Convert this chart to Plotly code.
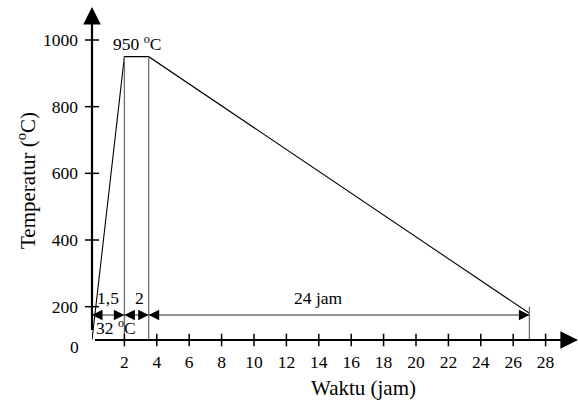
import plotly.graph_objects as go

# ---- data ----
time_h = [0, 2, 3.5, 27]          # heating start, reach 950, end soak, end cooling
temp_c = [100, 950, 950, 180]     # axis floor (labelled 0 / 32 °C start), 950, 950, end of cooling
guide_x = [2, 3.5, 27]            # vertical guide lines
guide_top = [950, 950, 200]
dim_start = [0, 2, 3.5]
dim_end = [2, 3.5, 27]
dim_labels = ["1,5", "2", "24 jam"]
dim_level = 175
x_ticks = [2, 4, 6, 8, 10, 12, 14, 16, 18, 20, 22, 24, 26, 28]
y_ticks = [200, 400, 600, 800, 1000]
y_floor = 100
x_max = 30
y_max = 1099

FONT = "Liberation Serif, Times New Roman, serif"
BLACK = "#000000"
GRAY = "#6e6e6e"
TICK_SIZE = 17.5
LABEL_SIZE = 17.5
TITLE_SIZE = 21

W, H = 578, 401
ML, MR, MT, MB = 92, 0, 7, 61
pw, ph = W - ML - MR, H - MT - MB

fig = go.Figure()

# temperature profile
fig.add_trace(go.Scatter(x=time_h, y=temp_c, mode="lines",
                         line=dict(color=BLACK, width=1.1), hoverinfo="skip"))

# vertical guide lines
for gx, gt in zip(guide_x, guide_top):
    fig.add_trace(go.Scatter(x=[gx, gx], y=[y_floor, gt], mode="lines",
                             line=dict(color=GRAY, width=1.3), hoverinfo="skip"))

# dimension line
fig.add_trace(go.Scatter(x=[dim_start[0], dim_end[-1]], y=[dim_level, dim_level], mode="lines",
                         line=dict(color=GRAY, width=1.3), hoverinfo="skip"))

# crossing tick marks
fig.add_trace(go.Scatter(x=x_ticks, y=[y_floor] * len(x_ticks), mode="markers",
                         marker=dict(symbol="line-ns", size=9, line=dict(color=BLACK, width=1.5)),
                         hoverinfo="skip", cliponaxis=False))
fig.add_trace(go.Scatter(x=[0] * len(y_ticks), y=y_ticks, mode="markers",
                         marker=dict(symbol="line-ew", size=10, line=dict(color=BLACK, width=1.5)),
                         hoverinfo="skip", cliponaxis=False))

annotations = []
# axes with arrow heads
annotations.append(dict(x=x_max, y=y_floor, ax=0, ay=y_floor, xref="x", yref="y", axref="x", ayref="y",
                        showarrow=True, arrowhead=2, arrowsize=1.6, arrowwidth=2.2, arrowcolor=BLACK,
                        standoff=0, text=" "))
annotations.append(dict(x=0, y=y_max, ax=0, ay=y_floor, xref="x", yref="y", axref="x", ayref="y",
                        showarrow=True, arrowhead=2, arrowsize=1.6, arrowwidth=2.2, arrowcolor=BLACK,
                        standoff=0, text=" "))

# dimension arrow heads (pointing inward to each segment end)
for s, e in zip(dim_start, dim_end):
    annotations.append(dict(x=s, y=dim_level, ax=10, ay=0, xref="x", yref="y",
                            showarrow=True, arrowhead=2, arrowsize=1.5, arrowwidth=1.4,
                            arrowcolor=BLACK, standoff=0, text=" "))
    annotations.append(dict(x=e, y=dim_level, ax=-10, ay=0, xref="x", yref="y",
                            showarrow=True, arrowhead=2, arrowsize=1.5, arrowwidth=1.4,
                            arrowcolor=BLACK, standoff=0, text=" "))

# dimension labels
label_x = [1.0, 2.96, 14.0]
for lx, lt in zip(label_x, dim_labels):
    annotations.append(dict(x=lx, y=226, xref="x", yref="y", text=lt, showarrow=False,
                            xanchor="center", yanchor="middle",
                            font=dict(family=FONT, size=LABEL_SIZE, color=BLACK)))

annotations.append(dict(x=1.48, y=139, xref="x", yref="y", text="32 <sup>o</sup>C", showarrow=False,
                        xanchor="center", yanchor="middle",
                        font=dict(family=FONT, size=LABEL_SIZE, color=BLACK)))
annotations.append(dict(x=2.78, y=992, xref="x", yref="y", text="950 <sup>o</sup>C", showarrow=False,
                        xanchor="center", yanchor="middle",
                        font=dict(family=FONT, size=LABEL_SIZE, color=BLACK)))

# "0" at origin
annotations.append(dict(x=0, y=y_floor, xref="x", yref="y", text="0", showarrow=False,
                        xanchor="right", yanchor="middle", xshift=-11, yshift=-7,
                        font=dict(family=FONT, size=TICK_SIZE, color=BLACK)))

# axis titles (positioned in paper coordinates)
annotations.append(dict(x=(363 - ML) / pw, y=(H - MB - 388) / ph, xref="paper", yref="paper",
                        xanchor="center", yanchor="middle",
                        text="Waktu (jam)", showarrow=False,
                        font=dict(family=FONT, size=TITLE_SIZE, color=BLACK)))
annotations.append(dict(x=(26 - ML) / pw, y=(H - MB - 181) / ph, xref="paper", yref="paper",
                        xanchor="center", yanchor="middle",
                        text="Temperatur (<sup>o</sup>C)", showarrow=False, textangle=-90,
                        font=dict(family=FONT, size=TITLE_SIZE, color=BLACK)))

fig.update_layout(
    width=W, height=H,
    margin=dict(l=ML, r=MR, t=MT, b=MB, autoexpand=False),
    plot_bgcolor="white", paper_bgcolor="white",
    showlegend=False,
    annotations=annotations,
    xaxis=dict(range=[0, x_max], tickvals=x_ticks, ticktext=[str(v) for v in x_ticks],
               showgrid=False, zeroline=False, showline=False, ticks="",
               ticklabelstandoff=9, automargin=False,
               tickfont=dict(family=FONT, size=TICK_SIZE, color=BLACK)),
    yaxis=dict(range=[y_floor, y_max], tickvals=y_ticks, ticktext=[str(v) for v in y_ticks],
               showgrid=False, zeroline=False, showline=False, ticks="",
               ticklabelstandoff=13, automargin=False,
               tickfont=dict(family=FONT, size=TICK_SIZE, color=BLACK)),
)

fig.write_html("out.html", config={"displayModeBar": False},
               post_script="document.body.style.margin='0';document.body.style.overflow='hidden';")
